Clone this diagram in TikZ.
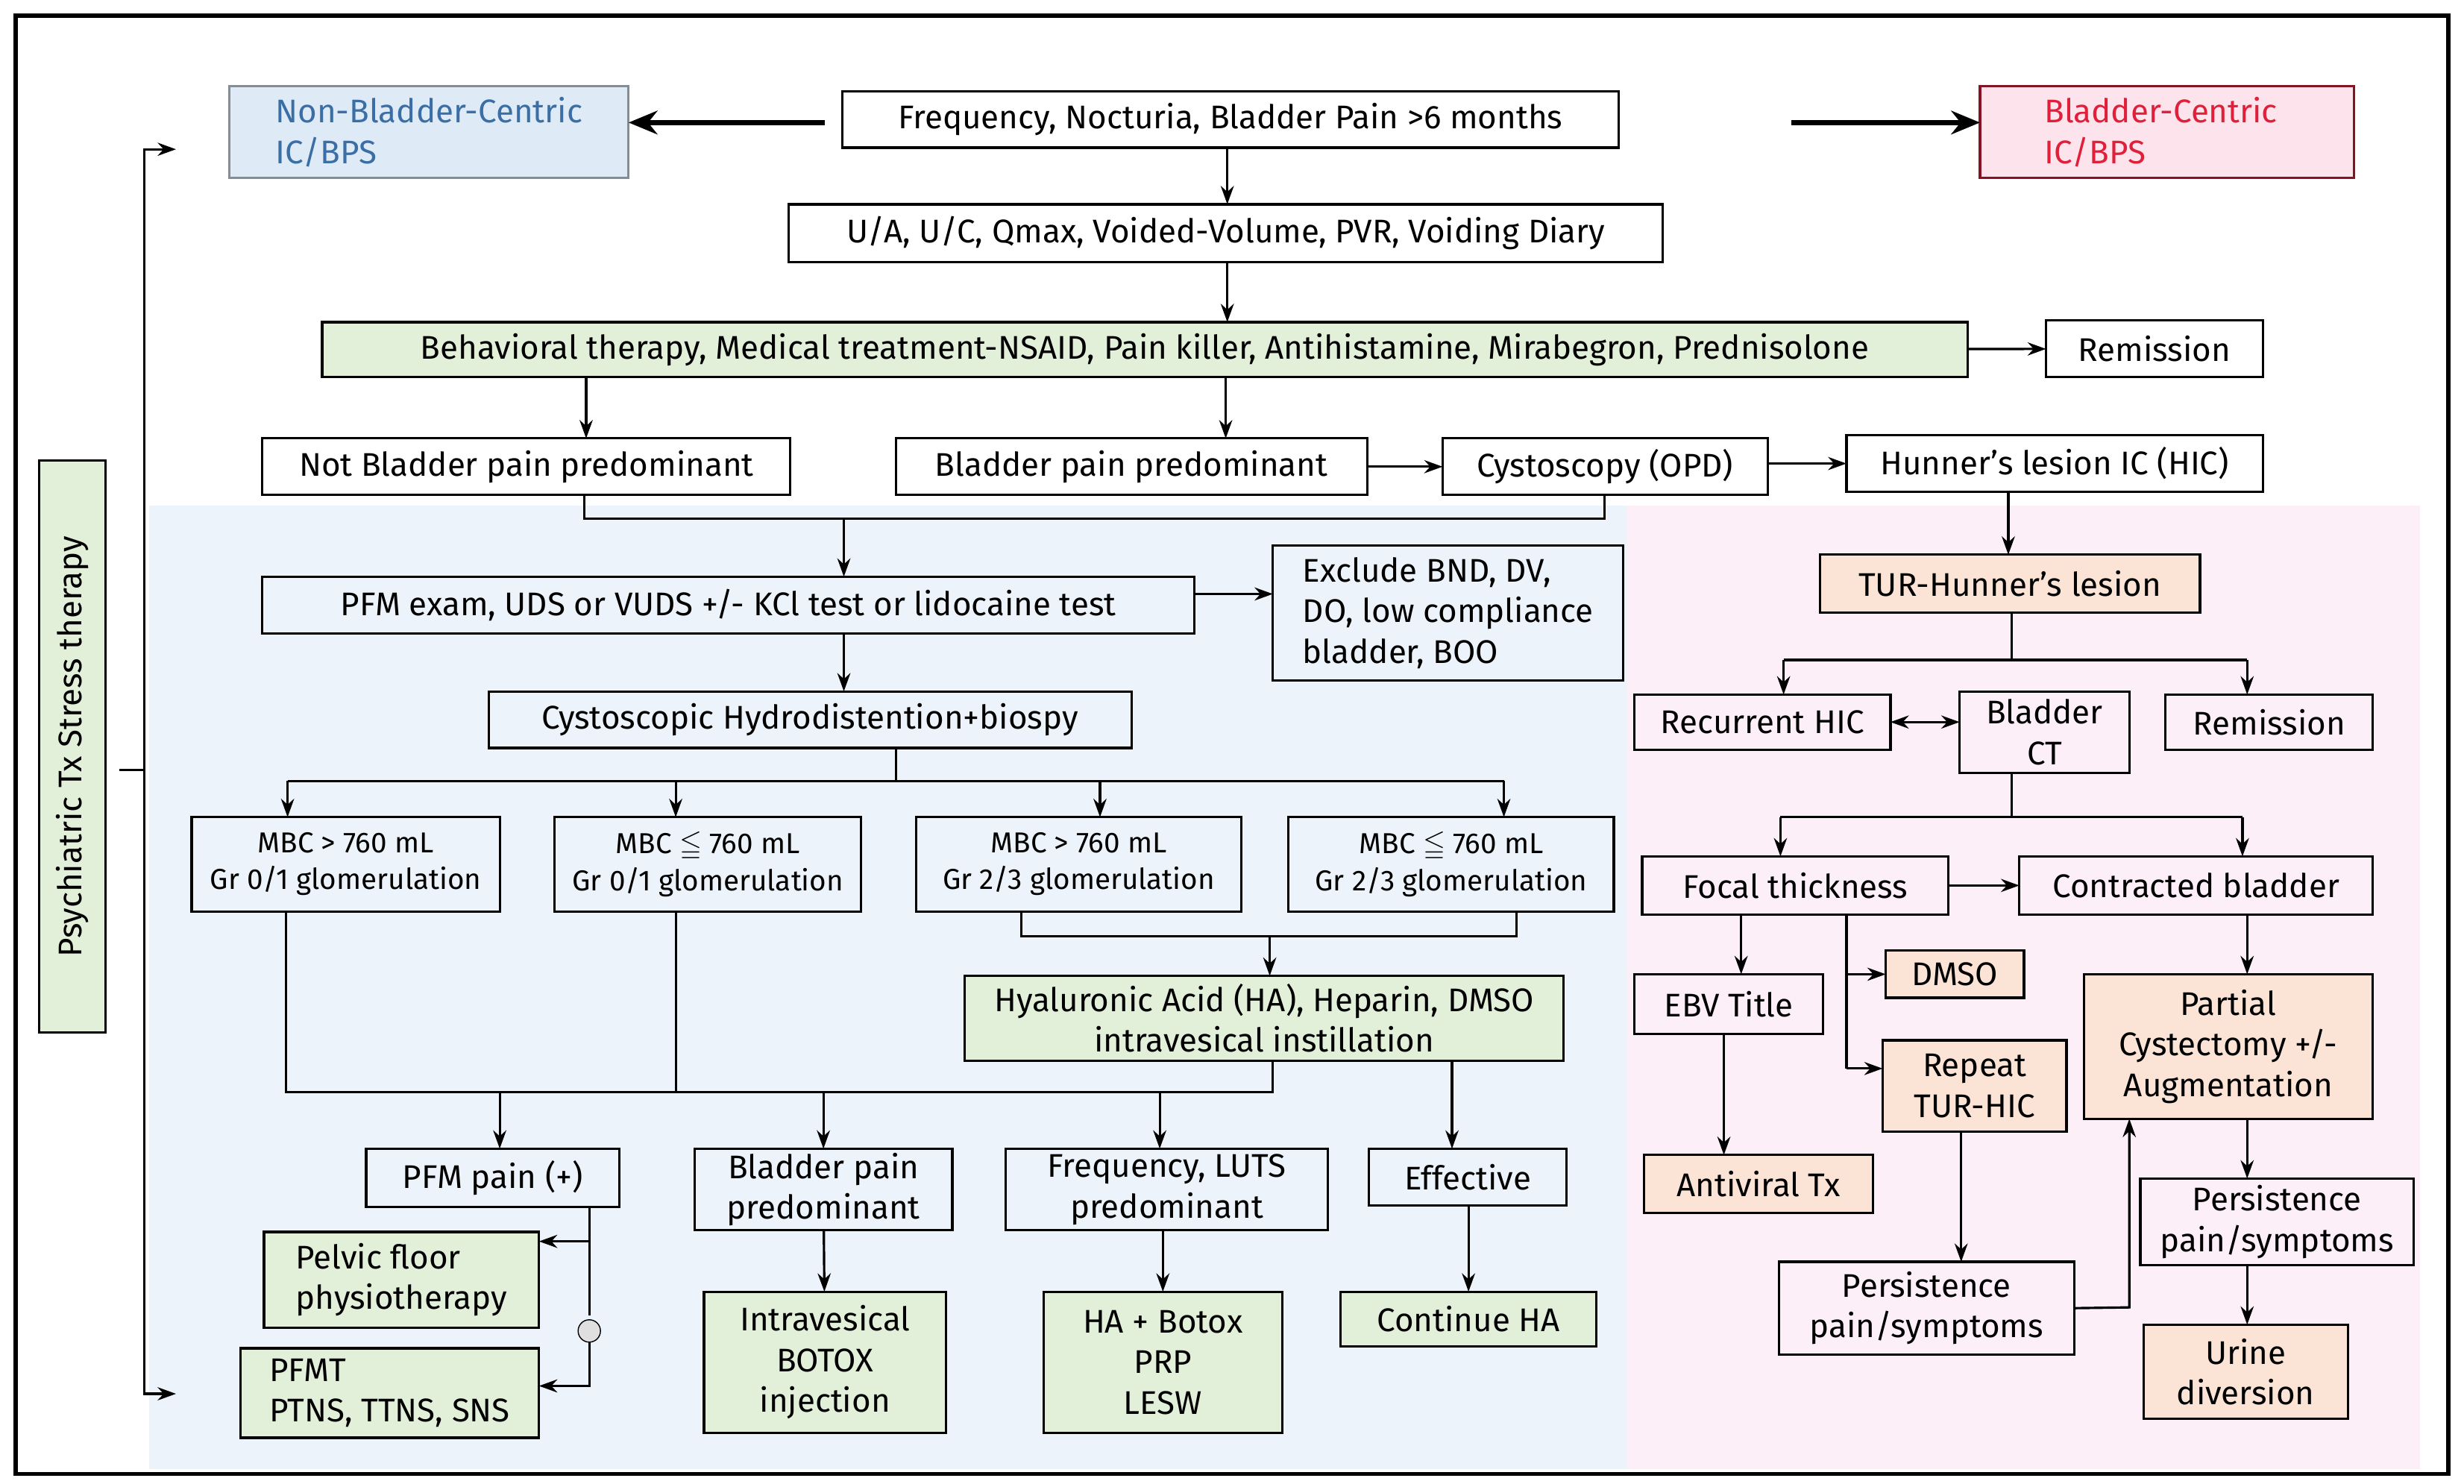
\documentclass[tikz,border=0pt]{standalone}
\usepackage{amssymb}
\usepackage{fontspec}
\setmainfont{Fira Sans}
\usetikzlibrary{arrows.meta}
\definecolor{bgb}{HTML}{EDF3FA}
\definecolor{bgp}{HTML}{FCEFF7}
\definecolor{gr}{HTML}{E2EFD9}
\definecolor{og}{HTML}{FBE4D5}
\definecolor{lb}{HTML}{DEEBF7}
\definecolor{lp}{HTML}{FDE4EC}
\definecolor{bt}{HTML}{3A6EA5}
\definecolor{rt}{HTML}{E0203A}
\tikzset{
 box/.style={draw,line width=0.9pt,inner sep=1pt,outer sep=0pt,align=center,font=\fontsize{12.5}{15.5}\selectfont},
 sm/.style={font=\fontsize{11}{14}\selectfont},
 g/.style={fill=gr}, o/.style={fill=og},
 arr/.style={line width=0.9pt,-{Stealth[length=7pt,width=5pt]}},
 ln/.style={line width=0.9pt},
 big/.style={line width=2pt,-{Stealth[length=11pt,width=9pt]}}
}
\newcommand\bx[7]{\pgfmathsetmacro\bw{(#4-#2)*0.02107}\pgfmathsetmacro\bh{(#5-#3)*0.02107}%
\node[box,#6,minimum width=\bw cm,minimum height=\bh cm] (#1) at ({(#2+#4)/2},{(#3+#5)/2}) {#7};}
\begin{document}
\begin{tikzpicture}[x=0.02107cm,y=-0.02107cm]
\useasboundingbox (0,0) rectangle (1568,944);
\fill[white] (0,0) rectangle (1568,944);
\fill[bgb] (95,322) rectangle (1035,935);
\fill[bgp] (1035,322) rectangle (1540,935);
\draw[line width=1.5pt] (10,10) rectangle (1558,938);
% top
\bx{nbc}{146}{55}{400}{113}{fill=lb,draw=lb!60!black,text=bt,align=left}{Non-Bladder-Centric\\IC/BPS\hspace*{6.2em}}
\bx{freq}{536}{58}{1030}{94}{}{Frequency, Nocturia, Bladder Pain >6 months}
\bx{bc}{1260}{55}{1498}{113}{fill=lp,draw=rt!60!black,text=rt,align=left}{Bladder-Centric\\IC/BPS\hspace*{4.4em}}
\coordinate (la) at (525,78); \coordinate (ra) at (1140,78);
\draw[big] (la) -- (la -| nbc.east);
\draw[big] (ra) -- (ra -| bc.west);
\bx{ua}{502}{130}{1058}{167}{}{U/A, U/C, Qmax, Voided-Volume, PVR, Voiding Diary}
\bx{beh}{205}{205}{1252}{240}{g}{Behavioral therapy, Medical treatment-NSAID, Pain killer, Antihistamine, Mirabegron, Prednisolone}
\bx{rem1}{1302}{204}{1440}{240}{}{Remission}
\bx{notbp}{167}{279}{503}{315}{}{Not Bladder pain predominant}
\bx{bp}{570}{279}{870}{315}{}{Bladder pain predominant}
\bx{cysto}{918}{279}{1125}{315}{}{Cystoscopy (OPD)}
\bx{hic}{1175}{277}{1440}{313}{}{Hunner's lesion IC (HIC)}
\bx{pfm}{167}{367}{760}{403}{}{PFM exam, UDS or VUDS +/- KCl test or lidocaine test}
\bx{excl}{810}{347}{1033}{433}{align=left}{Exclude BND, DV,\\DO, low compliance\\bladder, BOO}
\bx{hydro}{311}{440}{720}{476}{}{Cystoscopic Hydrodistention+biospy}
\bx{m1}{122}{520}{318}{580}{sm}{MBC > 760 mL\\Gr 0/1 glomerulation}
\bx{m2}{353}{520}{548}{580}{sm}{MBC $\leqq$ 760 mL\\Gr 0/1 glomerulation}
\bx{m3}{583}{520}{790}{580}{sm}{MBC > 760 mL\\Gr 2/3 glomerulation}
\bx{m4}{820}{520}{1027}{580}{sm}{MBC $\leqq$ 760 mL\\Gr 2/3 glomerulation}
\bx{ha}{614}{621}{995}{675}{g}{Hyaluronic Acid (HA), Heparin, DMSO\\intravesical instillation}
\bx{pp}{233}{731}{394}{768}{}{PFM pain (+)}
\bx{blp}{442}{731}{606}{783}{}{Bladder pain\\predominant}
\bx{fl}{640}{731}{845}{783}{}{Frequency, LUTS\\predominant}
\bx{eff}{871}{731}{997}{767}{}{Effective}
\bx{pel}{168}{784}{343}{845}{g,align=left}{Pelvic floor\\physiotherapy}
\bx{pfmt}{153}{858}{343}{915}{g,align=left}{PFMT\hspace*{5em}\\PTNS, TTNS, SNS}
\bx{intra}{448}{822}{602}{912}{g}{Intravesical\\BOTOX\\injection}
\bx{hab}{664}{822}{816}{912}{g}{HA + Botox\\PRP\\LESW}
\bx{cha}{853}{822}{1016}{857}{g}{Continue HA}
% right side
\bx{tur}{1158}{353}{1400}{390}{o}{TUR-Hunner's lesion}
\bx{rhic}{1040}{442}{1203}{477}{}{Recurrent HIC}
\bx{bct}{1247}{440}{1355}{492}{}{Bladder\\CT}
\bx{rem2}{1378}{442}{1510}{477}{}{Remission}
\bx{foc}{1045}{545}{1240}{582}{}{Focal thickness}
\bx{con}{1285}{545}{1510}{582}{}{Contracted bladder}
\bx{ebv}{1040}{620}{1160}{658}{}{EBV Title}
\bx{dmso}{1200}{605}{1288}{635}{o}{DMSO}
\bx{rep}{1198}{662}{1315}{720}{o}{Repeat\\TUR-HIC}
\bx{part}{1326}{620}{1510}{712}{o}{Partial\\Cystectomy +/-\\Augmentation}
\bx{anti}{1046}{735}{1192}{772}{o}{Antiviral Tx}
\bx{pers1}{1362}{750}{1536}{805}{}{Persistence\\pain/symptoms}
\bx{pers2}{1132}{803}{1320}{862}{}{Persistence\\pain/symptoms}
\bx{uri}{1364}{843}{1494}{903}{o}{Urine\\diversion}
% psych
\pgfmathsetmacro\pw{364*0.02107}\pgfmathsetmacro\ph{42*0.02107}
\node[box,g,rotate=90,minimum width=\pw cm,minimum height=\ph cm] (psy) at (46,475) {Psychiatric Tx Stress therapy};
\coordinate (bt) at (112,95); \coordinate (bb) at (112,887); \coordinate (bm) at (76,490);
\draw[arr] (bm) -- (92,490) |- (bt);
\draw[arr] (92,490) |- (bb);
% connectors
\draw[arr] (781,94) -- (781,130);
\draw[arr] (781,167) -- (781,205);
\draw[arr] (beh) -- (rem1);
\draw[arr] (373,240) -- (373,279);
\draw[arr] (780,240) -- (780,279);
\draw[arr] (bp) -- (cysto);
\draw[arr] (1125,295) -- (1175,295);
\draw[arr] (1278,313) -- (1278,353);
\draw[ln] (372,315) |- (1021,330) -- (1021,315);
\draw[arr] (537,330) -- (537,367);
\draw[arr] (760,378) -- (810,378);
\draw[arr] (537,403) -- (537,440);
\draw[ln] (570,476) -- (570,497);
\draw[ln] (183,497) -- (957,497);
\foreach \x in {183,430,700,957} \draw[arr] (\x,497) -- (\x,520);
\draw[ln] (650,580) |- (965,596) -- (965,580);
\draw[arr] (808,596) -- (808,621);
\draw[ln] (182,580) |- (810,695) -- (810,675);
\draw[ln] (430,580) -- (430,695);
\foreach \x/\yy in {318/731,524/731,738/731} \draw[arr] (\x,695) -- (\x,\yy);
\draw[arr] (924,675) -- (924,731);
\draw[ln] (375,768) -- (375,837);
\node[draw,fill=gray!25,circle,minimum size=0.3cm,inner sep=0pt] (cir) at (375,847) {};
\draw[arr] (375,790) -- (343,790);
\draw[arr] (cir.south) |- (343,882);
\draw[arr] (blp) -- (intra);
\draw[arr] (fl.south -| hab) -- (hab);
\draw[arr] (eff.south -| cha) -- (cha);
\draw[ln] (1280,390) -- (1280,420);
\draw[ln] (1135,420) -- (1430,420);
\draw[arr] (1135,420) -- (1135,442);
\draw[arr] (1430,420) -- (1430,442);
\draw[line width=0.9pt,{Stealth[length=7pt,width=5pt]}-{Stealth[length=7pt,width=5pt]}] (rhic) -- (rhic -| bct.west);
\draw[ln] (1280,492) -- (1280,520);
\draw[ln] (1133,520) -- (1427,520);
\draw[arr] (1133,520) -- (1133,545);
\draw[arr] (1427,520) -- (1427,545);
\draw[arr] (foc) -- (con);
\draw[arr] (1108,582) -- (1108,620);
\draw[ln] (1175,582) -- (1175,680);
\draw[arr] (1175,620) -- (dmso.west);
\draw[arr] (1175,680) -- (1198,680);
\draw[arr] (1097,658) -- (1097,735);
\draw[arr] (1430,582) -- (1430,620);
\draw[arr] (1248,720) -- (1248,803);
\draw[arr] (pers2.east) -- (1355,832) -- (1355,712);
\draw[arr] (1430,712) -- (1430,750);
\draw[arr] (1430,805) -- (1430,843);
\end{tikzpicture}
\end{document}
